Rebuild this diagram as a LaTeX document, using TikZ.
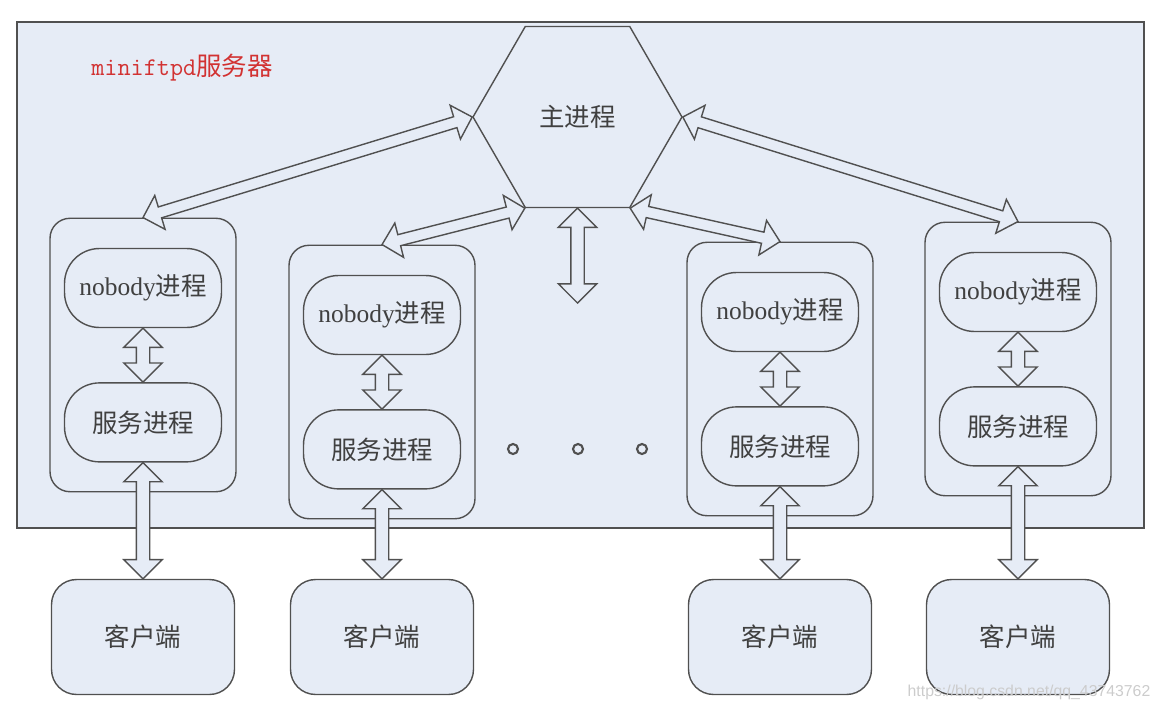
\documentclass[tikz,border=0pt]{standalone}
\usepackage{fontspec}
\setmainfont{Liberation Serif}
\newfontfamily\cjk{Noto Sans CJK SC}
\newfontfamily\wmfont{Liberation Sans}
\usetikzlibrary{shapes.geometric}
\usetikzlibrary{shapes.arrows}
\usetikzlibrary{positioning}
\usetikzlibrary{calc}
\definecolor{bgblue}{RGB}{230,236,246}
\definecolor{linegray}{RGB}{80,80,80}
\definecolor{titlered}{RGB}{210,50,50}
\tikzset{box/.style = {draw=linegray, fill=bgblue, line width=0.8pt},
         lbl/.style = {font=\fontsize{14.5}{16}\selectfont, text=black!75},
         groupbox/.style = {box, rounded corners=0.4cm, minimum width=3.72cm, minimum height=5.47cm},
         procbox/.style = {box, lbl, rounded corners=0.7cm, minimum width=3.14cm, minimum height=1.58cm},
         clientbox/.style = {box, lbl, rounded corners=0.5cm, minimum width=3.66cm, minimum height=2.3cm},
         hexbox/.style = {box, lbl, regular polygon, regular polygon sides=6, minimum size=4.18cm, inner sep=0pt},
         bigarrow/.style = {double arrow, draw=linegray, fill=bgblue, line width=0.8pt, inner sep=0pt,
                            text height=0.24cm, text depth=0pt, double arrow head extend=0.25cm},
         slimarrow/.style = {bigarrow, text height=0.2cm, double arrow head extend=0.24cm},
         dotc/.style = {circle, draw=linegray, line width=1.2pt, minimum size=0.2cm, inner sep=0pt},
         srvtitle/.style = {text=titlered, font=\fontsize{14.5}{16}\selectfont},
         wmark/.style = {text=gray!40, font=\wmfont\fontsize{9}{10}\selectfont}}
% hollow double arrow from #2 to #3
\newcommand{\twoway}[3][]{%
  \path let \p1 = #2, \p2 = #3, \n1 = {veclen(\x2-\x1,\y2-\y1)} in
    (\p1) -- node [bigarrow, sloped, minimum height=\n1, #1] {} (\p2);}

\begin{document}
\begin{tikzpicture}[x=0.02cm, y=-0.02cm]
  \useasboundingbox (0,0) rectangle (1160,710);
  \draw [fill=bgblue, draw=linegray, line width=1pt] (17,22) rectangle (1144,528);
  \node [srvtitle] (ttl) at (182,68) {\ttfamily miniftpd{\cjk 服务器}};
  \node [hexbox] (main) at (577.5,117) {\cjk 主进程};
  \foreach \x/\t [count=\i] in {143/218, 382/245, 780/242, 1018/222} {
    \node [groupbox] (g\i) at (\x,\t+137) {};
    \node [procbox] (nb\i) at (\x,\t+70) {nobody{\cjk 进程}};
    \node [procbox, below=1.08cm of nb\i] (sv\i) {\cjk 服务进程};
    \node [clientbox] (cl\i) at (\x,637) {\cjk 客户端};
    \twoway{(nb\i.south)}{(sv\i.north)}
    \twoway{(sv\i.south)}{(cl\i.north)}
  }
  \foreach \x [count=\i] in {513,578,642}
    \node [dotc] (d\i) at (\x,449) {};
  \coordinate (mid) at (577.5,303);
  \twoway{(main.south)}{(mid)}
  \twoway[slimarrow]{(main.180)}{(g1.north)}
  \twoway[slimarrow]{(main.240)}{(g2.north)}
  \twoway[slimarrow]{(main.300)}{(g3.north)}
  \twoway[slimarrow]{(main.0)}{(g4.north)}
  \node [wmark] (wm) at (1029,692) {https://blog.csdn.net/qq\_43743762};
\end{tikzpicture}
\end{document}
